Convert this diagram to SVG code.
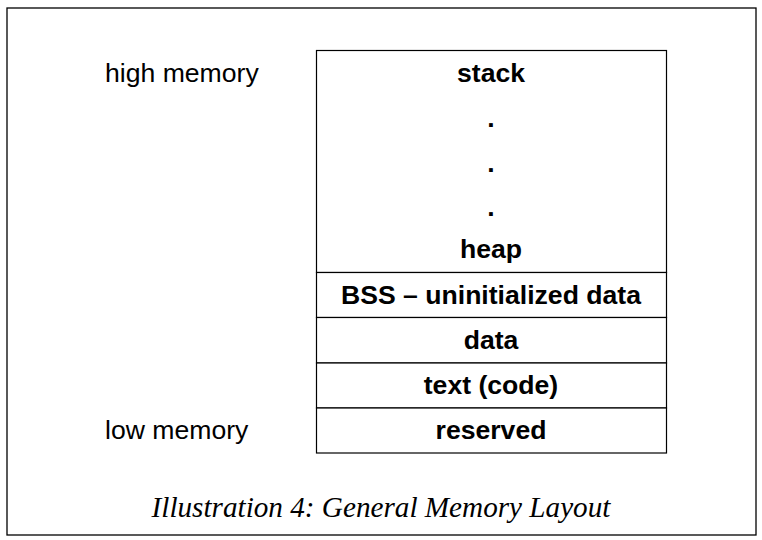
<svg xmlns="http://www.w3.org/2000/svg" width="762" height="540" viewBox="0 0 762 540">
<style>
.lbl{font-family:"Liberation Sans",Arial,sans-serif;font-size:26.6px;fill:#000}
.b{font-weight:bold;text-anchor:middle}
.cell{fill:#fff;stroke:#000;stroke-width:1.2}
.cap{font-family:"Liberation Serif","Times New Roman",serif;font-style:italic;font-size:29.2px;fill:#000;text-anchor:middle}
</style>
<rect x="0" y="0" width="762" height="540" fill="#fff"/>
<rect id="frame" x="7" y="8" width="749" height="527" fill="none" stroke="#000" stroke-width="1.3"/>
<g id="labels">
<text class="lbl" x="105" y="82">high memory</text>
<text class="lbl" x="105" y="439">low memory</text>
</g>
<g id="stack-heap">
<rect class="cell" x="316.5" y="50.5" width="350" height="222"/>
<text class="lbl b" x="491" y="82">stack</text>
<text class="lbl b" x="491" y="127">.</text>
<text class="lbl b" x="491" y="172">.</text>
<text class="lbl b" x="491" y="216">.</text>
<text class="lbl b" x="491" y="258">heap</text>
</g>
<g id="bss">
<rect class="cell" x="316.5" y="272.5" width="350" height="45"/>
<text class="lbl b" x="491" y="304">BSS – uninitialized data</text>
</g>
<g id="data">
<rect class="cell" x="316.5" y="317.5" width="350" height="45.5"/>
<text class="lbl b" x="491" y="349">data</text>
</g>
<g id="text">
<rect class="cell" x="316.5" y="363" width="350" height="45"/>
<text class="lbl b" x="491" y="394">text (code)</text>
</g>
<g id="reserved">
<rect class="cell" x="316.5" y="408" width="350" height="45"/>
<text class="lbl b" x="491" y="439">reserved</text>
</g>
<g id="connectors"></g>
<text class="cap" x="381" y="517">Illustration 4: General Memory Layout</text>
</svg>
